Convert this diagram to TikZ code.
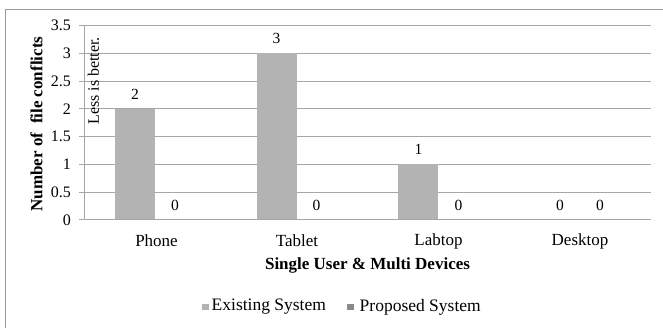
\documentclass[tikz,border=0pt]{standalone}
\usepackage{fontspec}
\setmainfont{Liberation Serif}
\definecolor{gridgray}{HTML}{A6A6A6}
\definecolor{framegray}{HTML}{9A9A9A}
\definecolor{existgray}{HTML}{B3B3B3}
\definecolor{propgray}{HTML}{8A8A8A}
\tikzset{
  tick label/.style={anchor=east,inner sep=0pt,font=\fontsize{16}{18}\selectfont},
  cat label/.style={inner sep=0pt,font=\fontsize{17}{20}\selectfont},
  data label/.style={inner sep=0pt,font=\fontsize{15.5}{18}\selectfont},
  axis title/.style={inner sep=0pt,font=\fontsize{17}{20}\selectfont\bfseries},
  legend text/.style={anchor=west,inner sep=0pt,font=\fontsize{17.5}{20}\selectfont},
  existbar/.style={fill=existgray,draw=none},
  gridline/.style={draw=gridgray,line width=1pt},
}
\begin{document}
\begin{tikzpicture}[x=1pt,y=-1pt]
\useasboundingbox (0,0) rectangle (663,328);
\fill[white] (0,0) rectangle (663,328);
% outer frame (right and bottom edges fall outside the picture)
\draw[framegray,line width=1pt] (5.5,328) -- (5.5,9.5) -- (663,9.5);
% gridlines, ticks and tick labels
\foreach \v/\lab in {0/0,0.5/0.5,1/1,1.5/1.5,2/2,2.5/2.5,3/3,3.5/3.5}{
  \pgfmathsetmacro{\yy}{220-55.5*\v}
  \draw[gridline] (79,\yy) -- (651,\yy);
  \node[tick label] (t\lab) at (71,\yy) {\lab};
}
\draw[gridline] (84,25.75) -- (84,220);
% bars
\foreach \c/\h/\n in {154.9/2/a,296.6/3/b,438.4/1/c,580.1/0/d}{
  \pgfmathsetmacro{\top}{220-55.5*\h}
  \ifdim\h pt>0pt
    \fill[existbar] (\c-40,\top) rectangle (\c,220);
  \fi
  \draw[gridline] (79,220) -- (651,220);
  \node[data label] (e\n) at (\c-20,\top-15) {\h};
  \node[data label] (p\n) at (\c+20,205) {0};
}
% category labels
\node[cat label] (phone) at (156.5,241) {Phone};
\node[cat label] (tablet) at (297,241) {Tablet};
\node[cat label] (labtop) at (438.5,241) {Labtop};
\node[cat label] (desktop) at (580,241) {Desktop};
% axis titles
\node[axis title] (xtitle) at (367.5,265.5) {Single User \& Multi Devices};
\node[axis title,rotate=90] (ytitle) at (36.5,124) {Number of\ \ file conflicts};
\node[inner sep=0pt,rotate=90,font=\fontsize{16}{18}\selectfont] (less) at (93.5,81) {Less is better.};
% legend
\fill[existgray] (202,303.5) rectangle (208.5,310);
\node[legend text] (leg1) at (211.5,307) {Existing System};
\fill[propgray] (347,303.5) rectangle (353.5,310);
\node[legend text] (leg2) at (359.5,307) {Proposed System};
\end{tikzpicture}
\end{document}
